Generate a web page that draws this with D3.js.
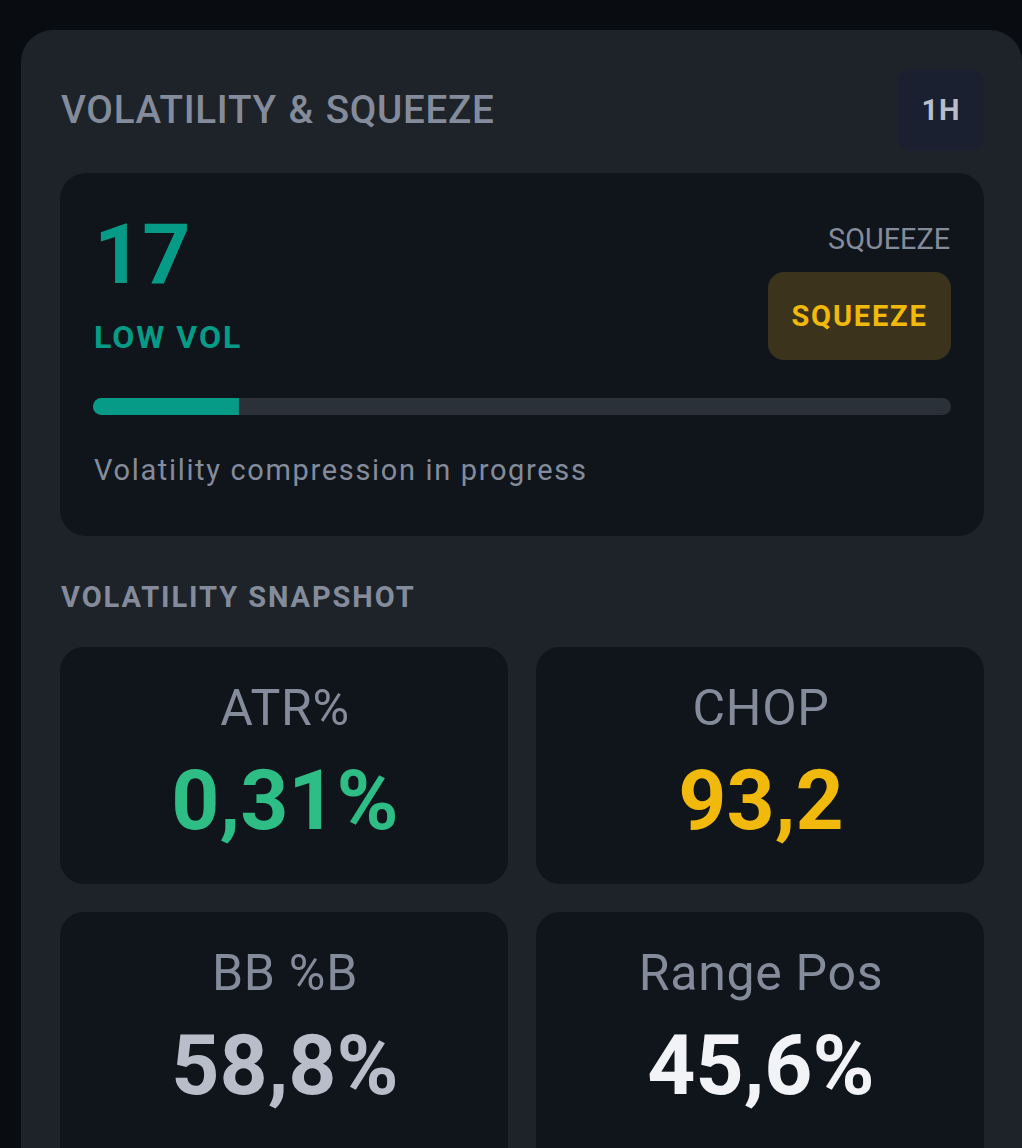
<!DOCTYPE html>
<html>
<head>
<meta charset="utf-8">
<script src="https://cdn.jsdelivr.net/npm/d3@7"></script>
<style>
  html, body { margin: 0; padding: 0; background: #090c10; overflow: hidden; }
  svg { display: block; }
  text { font-family: Roboto, sans-serif; }
</style>
</head>
<body>
<svg id="chart"></svg>
<script>
// values
const panelTitle = "VOLATILITY & SQUEEZE";
const timeframe = "1H";
const volScore = 17;
const volLabel = "LOW VOL";
const squeezeTitle = "SQUEEZE";
const squeezeState = "SQUEEZE";
const statusNote = "Volatility compression in progress";
const snapshotTitle = "VOLATILITY SNAPSHOT";
const metricNames = ["ATR%", "CHOP", "BB %B", "Range Pos"];
const metricValues = ["0,31%", "93,2", "58,8%", "45,6%"];
const metricColors = ["#2dbd85", "#f0b90b", "#b7bdc9", "#f1f3f6"];
const scoreDomain = [0, 100];

const width = 1022, height = 1148;
const teal = "#069b87", muted = "#848c9c", cardFill = "#10151b";
const svg = d3.select("#chart").attr("width", width).attr("height", height);

svg.append("rect").attr("width", width).attr("height", height).attr("fill", "#090c10");

let box = (x, y, w, h, r, fill) => svg.append("rect")
    .attr("x", x).attr("y", y).attr("width", w).attr("height", h)
    .attr("rx", r).attr("fill", fill);

let label = (txt, x, y, size, weight, fill, anchor = "start", spacing = 0) => svg.append("text")
    .attr("x", x).attr("y", y)
    .attr("font-size", size).attr("font-weight", weight)
    .attr("fill", fill).attr("text-anchor", anchor)
    .attr("letter-spacing", spacing)
    .text(txt);

// panel + header
box(21, 30, 1001, 1180, 32, "#1e2329");
label(panelTitle, 61, 122.5, 38.6, 500, muted, "start", 0.7).attr("word-spacing", 1.5);
box(897, 69, 87, 82, 14, "#1a2030");
label(timeframe, 941, 120, 29, 700, "#b7bdc9", "middle", 1);

// hero card
box(60, 173, 924, 363, 26, cardFill);
label(volScore, 94, 283, 84, 700, teal);
label(volLabel, 94, 348, 32, 700, teal, "start", 2);
label(squeezeTitle, 950, 248.5, 28.8, 400, muted, "end");
box(768, 272, 183, 88, 16, "#3b331c");
label(squeezeState, 859.5, 326, 29, 700, "#f0b90b", "middle", 1.8);

// score bar
const barScale = d3.scaleLinear().domain(scoreDomain).range([93, 951]);
box(barScale(0), 398, barScale(100) - barScale(0), 17, 8.5, "#2b3139");
svg.append("path")
    .attr("fill", teal)
    .attr("d", () => {
        const x0 = barScale(0), x1 = barScale(volScore);
        return `M${x1},398H${x0 + 8.5}A8.5,8.5 0 0 0 ${x0 + 8.5},415H${x1}Z`;
    });
label(statusNote, 94, 480, 29, 400, muted, "start", 1.66);

// snapshot
label(snapshotTitle, 61, 607, 29, 700, muted, "start", 1.92);

const cardX = d3.scaleBand().domain([0, 1]).range([60, 984]).paddingInner(28 / 476);
const cardY = [647, 912];
const cardH = [237, 280];

metricNames.forEach((name, i) => {
    const col = i % 2, row = Math.floor(i / 2);
    const x = cardX(col), w = cardX.bandwidth(), y = cardY[row];
    box(x, y, w, cardH[row], 24, cardFill);
    label(name, x + w / 2 + 1, y + 78, 50, 400, muted, "middle", 0.7);
    label(metricValues[i], x + w / 2 + 1, y + 182, 84, 700, metricColors[i], "middle");
});
</script>
</body>
</html>
